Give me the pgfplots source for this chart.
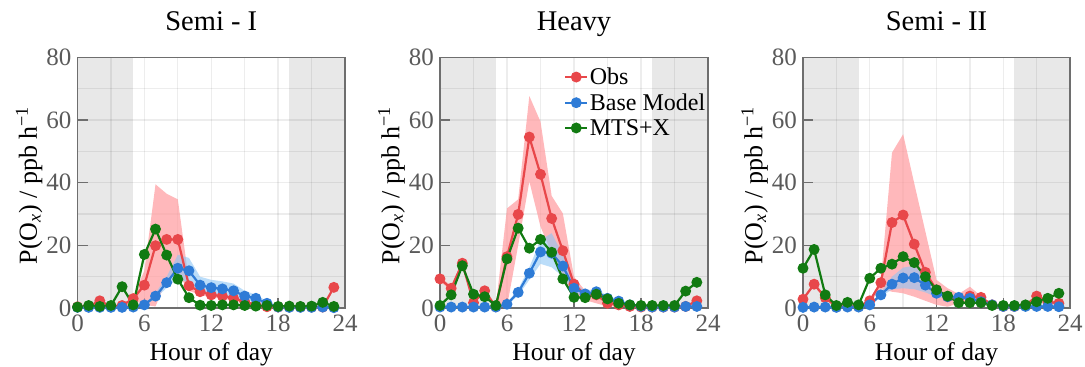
\documentclass[border=0pt]{standalone}
\usepackage{fontspec}
\setmainfont{Liberation Serif}
\usepackage{pgfplots}
\pgfplotsset{compat=1.18}
\usepackage{pgfplotstable}
\usepgfplotslibrary{fillbetween}

\definecolor{obsred}{HTML}{E8474A}
\definecolor{obsband}{HTML}{FF9A9E}
\definecolor{baseblue}{HTML}{2E7BD6}
\definecolor{baseband}{HTML}{8EC6F5}
\definecolor{mtsgreen}{HTML}{117A11}
\definecolor{nightgray}{HTML}{E8E8E8}
\definecolor{ticklab}{HTML}{5A5A5A}
\definecolor{framegray}{HTML}{6E6E6E}

% columns: hour, obs mean, obs lower, obs upper, base mean, base lower, base upper, MTS+X
\pgfplotstableread{
h  obs  ol   ou   base bl   bu   mts
0  0.4  0.2  0.6  0.2  0.1  0.3  0.3
1  0.5  0.3  0.7  0.2  0.1  0.3  0.8
2  2.3  1.8  2.8  0.2  0.1  0.3  0.5
3  0.5  0.3  0.7  0.2  0.1  0.3  0.8
4  0.8  0.5  1.1  0.2  0.1  0.3  6.8
5  3.0  2.5  3.5  0.3  0.2  0.4  1.0
6  7.3  1.0  12.0 1.0  0.7  1.4  17.1
7  19.9 0.5  39.5 3.8  3.0  4.8  25.2
8  21.9 9.0  36.5 8.1  6.5  10.0 16.9
9  21.9 11.0 34.7 12.7 9.5  17.0 9.2
10 7.1  5.5  8.5  11.9 8.0  16.0 3.3
11 5.2  4.2  6.2  7.3  5.5  10.0 0.9
12 4.2  3.4  5.0  6.5  4.8  9.0  0.8
13 3.8  3.0  4.6  6.1  4.3  8.5  1.0
14 3.1  2.4  3.8  5.5  3.6  7.8  1.0
15 2.0  1.5  2.5  3.8  2.5  5.5  0.8
16 1.0  0.6  1.4  3.1  2.0  4.2  0.6
17 0.4  0.2  0.6  1.5  1.0  2.2  0.8
18 0.3  0.2  0.4  0.3  0.2  0.5  0.5
19 0.3  0.2  0.4  0.2  0.1  0.3  0.6
20 0.3  0.2  0.4  0.2  0.1  0.3  0.5
21 0.3  0.2  0.4  0.2  0.1  0.3  0.6
22 0.3  0.2  0.4  0.3  0.2  0.4  1.8
23 6.6  6.0  7.2  0.1  0.0  0.2  0.5
}\semiI

\pgfplotstableread{
h  obs  ol   ou   base bl   bu   mts
0  9.3  8.5  10.1 0.3  0.2  0.4  0.8
1  6.3  5.6  7.0  0.3  0.2  0.4  4.2
2  14.3 13.5 15.1 0.3  0.2  0.4  13.5
3  1.7  1.2  2.2  0.3  0.2  0.4  4.4
4  5.5  4.8  6.2  0.3  0.2  0.4  3.6
5  0.4  0.2  0.6  0.3  0.2  0.4  0.8
6  16.4 0.5  31.8 1.2  0.8  1.6  15.7
7  29.9 20.0 34.7 5.0  4.0  6.0  25.5
8  54.6 40.4 67.7 11.1 9.0  13.0 19.1
9  42.7 26.0 59.5 17.9 14.1 21.7 21.9
10 28.6 17.5 35.8 17.5 13.0 23.9 17.8
11 18.3 9.0  30.2 13.4 10.0 17.0 9.3
12 7.6  4.5  10.0 6.3  5.0  8.0  3.4
13 4.2  2.5  5.5  4.5  3.5  5.5  3.3
14 4.2  1.5  4.8  5.2  4.0  6.2  4.4
15 1.5  0.5  2.5  3.1  2.4  3.8  2.9
16 1.0  0.5  1.5  2.2  1.6  2.8  1.5
17 0.5  0.3  0.7  1.0  0.7  1.3  1.0
18 0.3  0.2  0.4  0.5  0.3  0.7  0.8
19 0.3  0.2  0.4  0.3  0.2  0.4  0.8
20 0.3  0.2  0.4  0.3  0.2  0.4  0.8
21 0.3  0.2  0.4  0.3  0.2  0.4  0.8
22 0.5  0.3  0.7  0.5  0.3  0.7  5.4
23 2.3  1.8  2.8  0.5  0.3  0.7  8.2
}\heavy

\pgfplotstableread{
h  obs  ol   ou   base bl   bu   mts
0  2.8  2.3  3.3  0.2  0.1  0.3  12.7
1  7.6  7.0  8.2  0.3  0.2  0.4  18.7
2  3.3  2.8  3.8  0.3  0.2  0.4  4.2
3  0.4  0.3  0.6  0.2  0.1  0.3  0.8
4  0.5  0.3  0.7  0.3  0.2  0.4  1.8
5  0.5  0.3  0.7  0.3  0.2  0.4  1.0
6  2.3  1.8  2.8  1.0  0.7  1.3  9.5
7  8.1  6.0  9.0  4.2  3.5  5.0  12.7
8  27.3 5.2  49.6 7.6  6.0  10.0 14.0
9  29.7 4.7  55.5 9.6  6.3  12.9 16.4
10 20.4 3.6  39.8 9.7  6.0  13.5 14.5
11 11.4 2.3  24.4 7.3  5.0  10.0 10.0
12 5.8  1.0  9.0  4.7  3.5  6.0  5.8
13 3.6  0.4  6.3  3.6  3.0  4.3  3.8
14 3.1  1.5  4.5  3.4  2.8  4.0  1.7
15 3.8  1.8  6.8  3.1  2.5  3.7  1.7
16 3.4  3.0  3.8  2.0  1.6  2.4  1.7
17 1.0  0.7  1.3  1.0  0.7  1.3  0.8
18 0.5  0.3  0.7  0.5  0.3  0.7  0.8
19 0.5  0.3  0.7  0.5  0.3  0.7  0.8
20 0.8  0.5  1.1  0.5  0.3  0.7  1.0
21 3.8  3.2  4.4  0.5  0.3  0.7  2.0
22 2.0  1.5  2.5  0.5  0.3  0.7  3.1
23 1.5  1.0  2.0  0.4  0.2  0.6  4.7
}\semiII

\pgfplotsset{
  panel/.style={
    scale only axis, height=250.5pt,
    xmin=0, xmax=24, ymin=0, ymax=80,
    xtick={0,6,12,18,24}, ytick={0,20,40,60,80},
    minor xtick={3,9,15,21}, minor ytick={10,30,50,70},
    grid=both,
    major grid style={line width=1.3pt, black, opacity=0.07},
    minor grid style={line width=1.3pt, black, opacity=0.07},
    tick align=inside, major tick length=10pt, minor tick length=0pt,
    xtick pos=bottom, ytick pos=left,
    tick style={framegray, line width=1.4pt},
    axis line style={framegray, line width=1.4pt},
    /pgf/number format/assume math mode=true,
    ticklabel style={font=\fontsize{25}{25}\selectfont, text=ticklab},
    xticklabel style={inner sep=0pt, anchor=north, yshift=-7pt},
    yticklabel style={inner sep=0pt, anchor=east, xshift=-6pt},
    xlabel={Hour of day},
    xlabel style={font=\fontsize{25.5}{26}\selectfont, at={(axis description cs:0.5,0)}, anchor=base, yshift=-52pt},
    ylabel={P(O\textsubscript{\textit{x}}) / ppb h\textsuperscript{−1}},
    ylabel style={font=\fontsize{26}{26}\selectfont, at={(axis description cs:-0.181,0.49)}, anchor=center},
    title style={font=\fontsize{28.5}{29}\selectfont, at={(axis description cs:0.5,1)}, anchor=base, yshift=20.8pt},
    set layers, clip=false,
  },
  obsstyle/.style={obsred, line width=2.2pt, mark=*, mark size=4.3pt, mark options={solid, fill=obsred, draw=obsred}},
  basestyle/.style={baseblue, line width=2.2pt, mark=*, mark size=4.3pt, mark options={solid, fill=baseblue, draw=baseblue}},
  mtsstyle/.style={mtsgreen, line width=2.2pt, mark=*, mark size=4.3pt, mark options={solid, fill=mtsgreen, draw=mtsgreen}},
}

% night-time shading, uncertainty bands and the three series of one panel
\newcommand{\panelcontent}[2]{%
  \addplot[fill=nightgray, draw=none, forget plot, on layer=axis background] coordinates {(0,0) (0,80) (5,80) (5,0)} -- cycle;
  \addplot[fill=nightgray, draw=none, forget plot, on layer=axis background] coordinates {(19,0) (19,80) (24,80) (24,0)} -- cycle;
  \addplot[draw=none, forget plot, name path=ou#2] table[x=h, y=ou] {#1};
  \addplot[draw=none, forget plot, name path=ol#2] table[x=h, y=ol] {#1};
  \addplot[fill=obsband, opacity=0.7, draw=none, forget plot] fill between[of=ou#2 and ol#2];
  \addplot[draw=none, forget plot, name path=bu#2] table[x=h, y=bu] {#1};
  \addplot[draw=none, forget plot, name path=bl#2] table[x=h, y=bl] {#1};
  \addplot[fill=baseband, opacity=0.6, draw=none, forget plot] fill between[of=bu#2 and bl#2];
  \addplot[obsstyle] table[x=h, y=obs] {#1};
  \addplot[basestyle] table[x=h, y=base] {#1};
  \addplot[mtsstyle] table[x=h, y=mts] {#1};
}

\begin{document}
\begin{tikzpicture}

\begin{axis}[panel, width=267.5pt, at={(77.5pt,-308pt)}, anchor=south west, title={Semi - I}]
  \panelcontent{\semiI}{a}
\end{axis}

\begin{axis}[panel, width=268pt, at={(440pt,-308pt)}, anchor=south west, title={Heavy},
  legend style={at={(axis cs:11.1,77.2)}, anchor=north west, draw=none, fill=none,
    font=\fontsize{24}{24}\selectfont, inner sep=0pt, row sep=4.5pt,
    nodes={inner sep=1.5pt}},
  legend cell align=left,
  legend image code/.code={\draw[mark repeat=2, mark phase=2] plot coordinates {(0pt,0pt) (11pt,0pt) (22pt,0pt)};}]
  \panelcontent{\heavy}{b}
  \legend{Obs, Base Model, MTS+X}
\end{axis}

\begin{axis}[panel, width=267pt, at={(803pt,-308pt)}, anchor=south west, title={Semi - II}]
  \panelcontent{\semiII}{c}
\end{axis}

\pgfresetboundingbox
\useasboundingbox (0pt,0pt) rectangle (1085pt,-367pt);
\end{tikzpicture}
\end{document}
